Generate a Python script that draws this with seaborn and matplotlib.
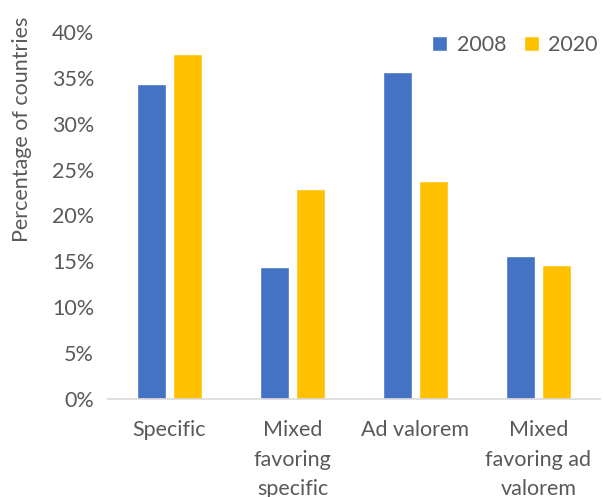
import matplotlib
matplotlib.use("Agg")
import matplotlib.pyplot as plt
import seaborn as sns
import pandas as pd
from matplotlib.ticker import PercentFormatter

categories = ["Specific", "Mixed\nfavoring\nspecific", "Ad valorem", "Mixed\nfavoring ad\nvalorem"]
years = ["2008", "2020"]
share_2008 = [0.343, 0.144, 0.356, 0.156]
share_2020 = [0.376, 0.229, 0.237, 0.146]
y_ticks = [0.0, 0.05, 0.10, 0.15, 0.20, 0.25, 0.30, 0.35, 0.40]

df = pd.DataFrame({
    "category": categories * 2,
    "year": [years[0]] * 4 + [years[1]] * 4,
    "share": share_2008 + share_2020,
})

sns.set_theme(style="white")
plt.rcParams["font.family"] = ["Lato", "DejaVu Sans"]
text_color = "#595959"
fs = 15.5

fig = plt.figure(figsize=(6.03, 4.97), dpi=100)
ax = fig.add_axes([0.179, 0.197, 0.816, 0.739])

sns.barplot(data=df, x="category", y="share", hue="year", order=categories,
            hue_order=years, palette=["#4472C4", "#FFC000"], width=0.58, gap=0.2,
            saturation=1, ax=ax, legend=True)

ax.set_ylim(0, 0.40)
ax.set_xlim(-0.5, 3.5)
ax.set_yticks(y_ticks)
ax.yaxis.set_major_formatter(PercentFormatter(1.0, decimals=0))
ax.set_xlabel("")
ax.set_ylabel("")
ax.tick_params(axis="both", length=0, labelsize=fs, colors=text_color)
ax.tick_params(axis="y", pad=10)
ax.tick_params(axis="x", pad=15)
for lbl in ax.get_xticklabels():
    lbl.set_linespacing(1.6)
    lbl.set_verticalalignment("top")

for side in ["top", "right", "left"]:
    ax.spines[side].set_visible(False)
ax.spines["bottom"].set_color("#d9d9d9")
ax.spines["bottom"].set_linewidth(1.2)

fig.text(0.037, 0.74, "Percentage of countries", rotation=90, ha="center",
         va="center", fontsize=fs, color=text_color)

leg = ax.legend(loc="upper right", bbox_to_anchor=(1.035, 1.045), ncol=2, frameon=False,
                handlelength=0.7, handleheight=0.7, handletextpad=0.45,
                columnspacing=0.8, fontsize=fs)
for t in leg.get_texts():
    t.set_color(text_color)

fig.savefig("out.png", dpi=100)
